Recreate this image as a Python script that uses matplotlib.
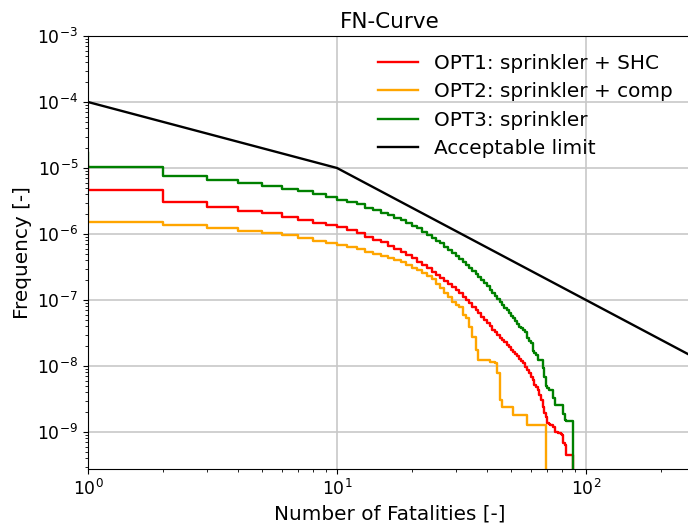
import numpy as np
from matplotlib import pyplot as plt

# number of fatalities N (value holds on [N, N+1)), last entry = curve drops to zero
N_opt1 = np.arange(0, 90)
N_opt2 = np.arange(0, 70)
N_opt3 = np.arange(0, 90)

# log10 of frequency of N or more fatalities
logF_opt1 = [-4.959, -5.333, -5.520, -5.595, -5.647, -5.687, -5.738, -5.785, -5.830, -5.870,
             -5.900, -5.945, -5.990, -6.040, -6.090, -6.125, -6.180, -6.230, -6.270, -6.320,
             -6.369, -6.420, -6.470, -6.520, -6.571, -6.620, -6.670, -6.710, -6.750, -6.798,
             -6.850, -6.900, -6.950, -7.000, -7.050, -7.101, -7.150, -7.200, -7.253, -7.300,
             -7.350, -7.400, -7.455, -7.490, -7.530, -7.570, -7.606, -7.640, -7.680, -7.715,
             -7.750, -7.783, -7.820, -7.855, -7.890, -7.925, -7.960, -8.010, -8.060, -8.111,
             -8.160, -8.212, -8.288, -8.320, -8.364, -8.440, -8.515, -8.617, -8.717, -8.770,
             -8.870, -8.880, -8.890, -8.890, -8.920, -9.000, -9.000, -9.010, -9.020, -9.030,
             -9.045, -9.170, -9.197, -9.348, -9.348, -9.348, -9.348, -9.348, -9.348]
logF_opt2 = [-5.570, -5.813, -5.864, -5.914, -5.955, -5.985, -6.020, -6.065, -6.100, -6.140,
             -6.167, -6.190, -6.227, -6.268, -6.300, -6.330, -6.368, -6.400, -6.430, -6.470,
             -6.520, -6.545, -6.590, -6.630, -6.680, -6.750, -6.823, -6.900, -6.960, -7.026,
             -7.076, -7.101, -7.227, -7.278, -7.404, -7.556, -7.758, -7.909, -7.909, -7.909,
             -7.909, -7.934, -7.934, -7.960, -8.110, -8.515, -8.617, -8.617, -8.617, -8.617,
             -8.617, -8.742, -8.742, -8.742, -8.742, -8.742, -8.742, -8.742, -8.900, -8.900,
             -8.900, -8.900, -8.900, -8.900, -8.900, -8.900, -8.900, -8.900, -8.900]
logF_opt3 = [-4.757, -4.989, -5.121, -5.186, -5.227, -5.268, -5.314, -5.353, -5.389, -5.439,
             -5.480, -5.511, -5.550, -5.600, -5.636, -5.675, -5.712, -5.750, -5.788, -5.830,
             -5.872, -5.914, -5.965, -6.015, -6.057, -6.099, -6.141, -6.191, -6.242, -6.292,
             -6.337, -6.381, -6.426, -6.470, -6.515, -6.560, -6.605, -6.650, -6.700, -6.745,
             -6.795, -6.845, -6.898, -6.940, -6.985, -7.030, -7.076, -7.115, -7.152, -7.195,
             -7.235, -7.278, -7.320, -7.362, -7.405, -7.430, -7.455, -7.480, -7.580, -7.620,
             -7.656, -7.780, -7.800, -7.833, -7.909, -7.909, -7.909, -8.035, -8.160, -8.310,
             -8.330, -8.364, -8.364, -8.364, -8.490, -8.590, -8.590, -8.590, -8.590, -8.590,
             -8.590, -8.720, -8.820, -8.840, -8.840, -8.840, -8.840, -8.840, -8.840]

# acceptable limit line
N_limit = [1, 10, 1000]
F_limit = [1e-4, 1e-5, 1e-9]

# frequency arrays, zero after the last fatality count
F_opt1 = np.append(10.0 ** np.array(logF_opt1), 0.0)
F_opt2 = np.append(10.0 ** np.array(logF_opt2), 0.0)
F_opt3 = np.append(10.0 ** np.array(logF_opt3), 0.0)

fig = plt.figure(figsize=(6.88, 5.23), dpi=100)
# axes run past the right edge of the figure, as in the reference
ax = fig.add_axes([88 / 688, 54 / 523, 603 / 688, 433 / 523])

ax.step(N_opt1, F_opt1, where='post', color='red', lw=1.7, label='OPT1: sprinkler + SHC')
ax.step(N_opt2, F_opt2, where='post', color='orange', lw=1.7, label='OPT2: sprinkler + comp')
ax.step(N_opt3, F_opt3, where='post', color='green', lw=1.7, label='OPT3: sprinkler')
ax.plot(N_limit, F_limit, color='black', lw=1.7, label='Acceptable limit')

ax.set_xscale('log')
ax.set_yscale('log')
ax.set_xlim(1, 10 ** (603 / 249))
ax.set_ylim(10 ** (-9 - 37 / 66), 1e-3)
ax.grid(True, which='major', color='#c8c8c8', lw=1.2)
ax.set_axisbelow(True)
ax.tick_params(labelsize=12.4)

ax.set_title('FN-Curve', fontsize=15.5)
ax.set_xlabel('Number of Fatalities [-]', fontsize=14.4)
ax.set_ylabel('Frequency [-]', fontsize=14.4)
ax.legend(loc='upper right', frameon=False, fontsize=14.4, labelspacing=0.47)

fig.savefig('out.png', dpi=100)
